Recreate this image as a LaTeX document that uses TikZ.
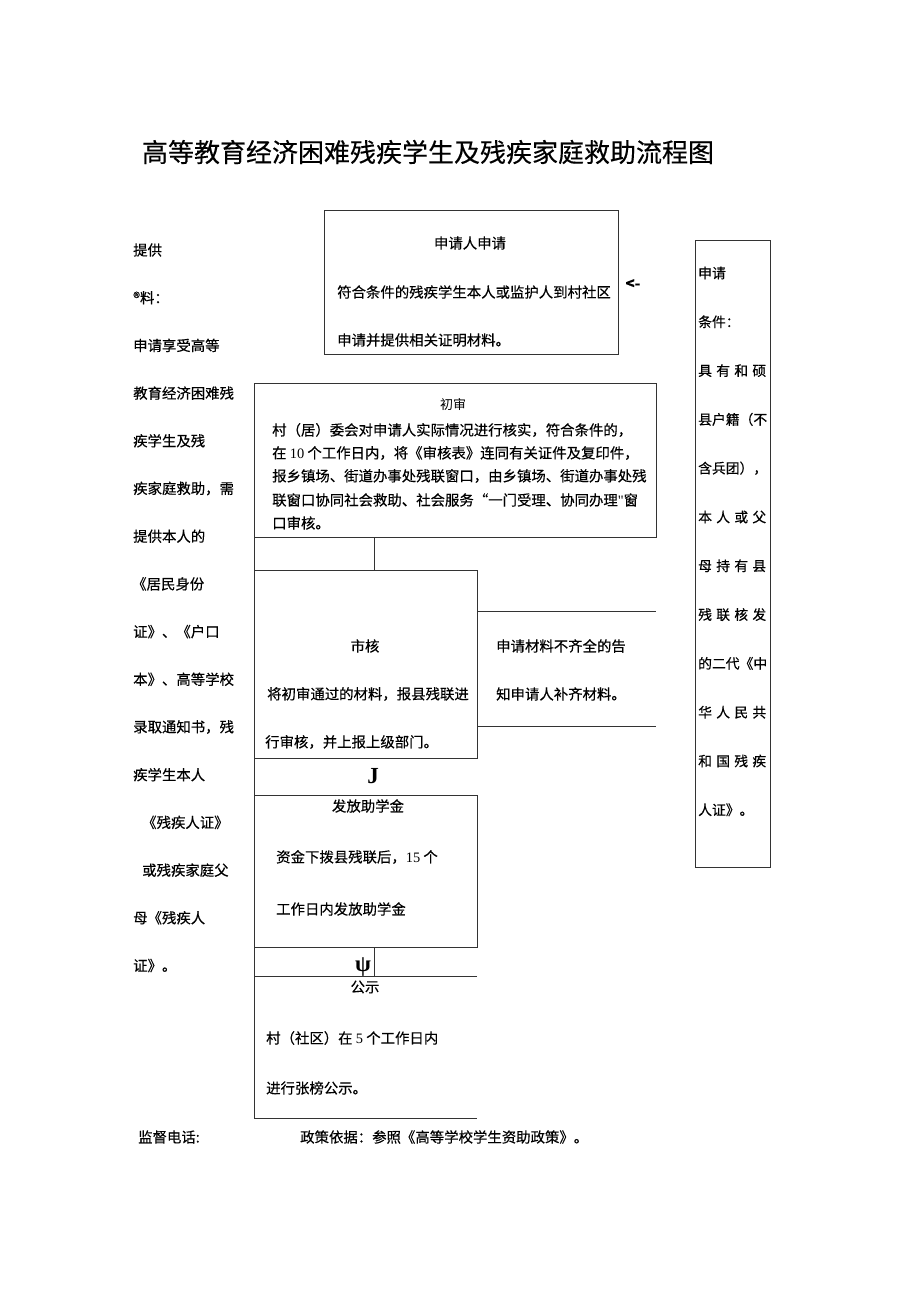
\documentclass[tikz,border=0pt]{standalone}
\usepackage{fontspec}
\setmainfont{Noto Sans CJK SC}[FakeBold=0.35]
\newfontfamily\thincjk{Noto Sans CJK SC}
\newfontfamily\tms{Liberation Serif}
\newcommand\spr[4]{\makebox[68pt][l]{#1\hfill#2\hfill#3\hfill#4}}
\tikzset{
  frame/.style={draw=black!80, line width=0.9pt, inner sep=0pt, outer sep=0pt, anchor=north west},
  ghost/.style={inner sep=0pt, outer sep=0pt, anchor=north west},
  ln/.style={draw=black!80, line width=0.9pt},
  tx/.style={inner sep=0pt, anchor=west, font=\fontsize{14.4}{16}\selectfont},
  tc/.style={inner sep=0pt, anchor=center, font=\fontsize{14.4}{16}\selectfont},
  rt/.style={inner sep=0pt, anchor=west, font=\fontsize{13.8}{16}\selectfont},
  sym/.style={inner sep=0pt, anchor=center, font=\tms\bfseries\fontsize{23}{25}\selectfont},
}
\begin{document}
\begin{tikzpicture}[x=1pt,y=-1pt]
\useasboundingbox[fill=white] (0,0) rectangle (920,1301);

% title
\node[inner sep=0pt, font=\fontsize{26}{28}\selectfont] (title) at (428,152) {高等教育经济困难残疾学生及残疾家庭救助流程图};

% boxes
\node[frame, minimum width=294pt, minimum height=144pt] (b1) at (324,210) {};
\node[frame, minimum width=402pt, minimum height=154pt] (b2) at (254,383) {};
\node[frame, minimum width=223pt, minimum height=188pt] (b3) at (254,570) {};
\node[frame, minimum width=223pt, minimum height=152pt] (b4) at (254,795) {};
\node[ghost, minimum width=223pt, minimum height=142pt] (b5) at (254,976) {};
\draw[ln] (b5.north east) -- (b5.north west) -- (b5.south west) -- (b5.south east);
\node[frame, minimum width=75pt, minimum height=627pt] (cond) at (695,240) {};

% left spine between boxes
\draw[ln] (b2.south west) -- (b3.north west);
\draw[ln] (b3.south west) -- (b4.north west);
\draw[ln] (b4.south west) -- (b5.north west);

% connectors
\coordinate (c1a) at (374,537);
\coordinate (c1b) at (374,570);
\draw[ln] (c1a) -- (c1b);
\coordinate (c2a) at (374,947);
\coordinate (c2b) at (374,976);
\draw[ln] (c2a) -- (c2b);

% side note lines
\coordinate (s1) at (656,611);
\coordinate (s2) at (656,726);
\draw[ln] (b3.east |- s1) -- (s1);
\draw[ln] (b3.east |- s2) -- (s2);

% box 1 text
\node[tc] (b1t) at (470,243) {申请人申请};
\node[tx] (b1l1) at (337,292) {符合条件的残疾学生本人或监护人到村社区};
\node[tx] (b1l2) at (337,340) {申请并提供相关证明材料。};
\node[inner sep=0pt, font=\bfseries\fontsize{15}{16}\selectfont] (arr) at (633,284) {<-};

% box 2 text
\node[inner sep=0pt, font=\thincjk\fontsize{13}{14}\selectfont] (b2t) at (453,405) {初审};
\node[tx] (b2l1) at (272,430) {村（居）委会对申请人实际情况进行核实，符合条件的，};
\node[tx] (b2l2) at (272,453) {在 {\tms 10} 个工作日内，将《审核表》连同有关证件及复印件，};
\node[tx] (b2l3) at (272,476) {报乡镇场、街道办事处残联窗口，由乡镇场、街道办事处残};
\node[tx] (b2l4) at (272,500) {联窗口协同社会救助、社会服务“一门受理、协同办理{\tms"}窗};
\node[tx] (b2l5) at (272,523) {口审核。};

% box 3 text
\node[tc] (b3t) at (365,646) {市核};
\node[tx] (b3l1) at (267,694) {将初审通过的材料，报县残联进};
\node[tx] (b3l2) at (265,742) {行审核，并上报上级部门。};
\node[tx] (n1) at (496,646) {申请材料不齐全的告};
\node[tx] (n2) at (496,694) {知申请人补齐材料。};

\node[sym] (j) at (373,776) {J};

% box 4 text
\node[tc] (b4t) at (368,806) {发放助学金};
\node[tx] (b4l1) at (276,857) {资金下拨县残联后，{\tms 15} 个};
\node[tx] (b4l2) at (276,909) {工作日内发放助学金};

\node[sym] (psi) at (363,967) {ψ};

% box 5 text
\node[tc] (b5t) at (365,987) {公示};
\node[tx] (b5l1) at (266,1038) {村（社区）在 {\tms 5} 个工作日内};
\node[tx] (b5l2) at (266,1088) {进行张榜公示。};

% footer
\node[tx] (f1) at (138,1137) {监督电话:};
\node[tx] (f2) at (300,1137) {政策依据：参照《高等学校学生资助政策》。};

% left column
\node[tx] (L0) at (133,250) {提供};
\node[tx] (L1) at (133,297.7) {®料：};
\node[tx] (L2) at (133,345.4) {申请享受高等};
\node[tx] (L3) at (133,393.1) {教育经济困难残};
\node[tx] (L4) at (133,440.8) {疾学生及残};
\node[tx] (L5) at (133,488.5) {疾家庭救助，需};
\node[tx] (L6) at (133,536.2) {提供本人的};
\node[tx] (L7) at (132,583.9) {《居民身份};
\node[tx] (L8) at (133,631.6) {证》、《户口};
\node[tx] (L9) at (133,679.3) {本》、高等学校};
\node[tx] (L10) at (133,727) {录取通知书，残};
\node[tx] (L11) at (133,774.7) {疾学生本人};
\node[tx] (L12) at (142,822.4) {《残疾人证》};
\node[tx] (L13) at (142,870.1) {或残疾家庭父};
\node[tx] (L14) at (133,917.8) {母《残疾人};
\node[tx] (L15) at (133,965.5) {证》。};

% right column
\node[rt] (R0) at (698,273) {申请};
\node[rt] (R1) at (698,321.8) {条件：};
\node[rt] (R2) at (698,370.6) {\spr{具}{有}{和}{硕}};
\node[rt] (R3) at (698,419.4) {县户籍（不};
\node[rt] (R4) at (698,468.2) {含兵团），};
\node[rt] (R5) at (698,517) {\spr{本}{人}{或}{父}};
\node[rt] (R6) at (698,565.8) {\spr{母}{持}{有}{县}};
\node[rt] (R7) at (698,614.6) {\spr{残}{联}{核}{发}};
\node[rt] (R8) at (698,663.4) {的二代《中};
\node[rt] (R9) at (698,712.2) {\spr{华}{人}{民}{共}};
\node[rt] (R10) at (698,761) {\spr{和}{国}{残}{疾}};
\node[rt] (R11) at (698,809.8) {人证》。};
\end{tikzpicture}
\end{document}
